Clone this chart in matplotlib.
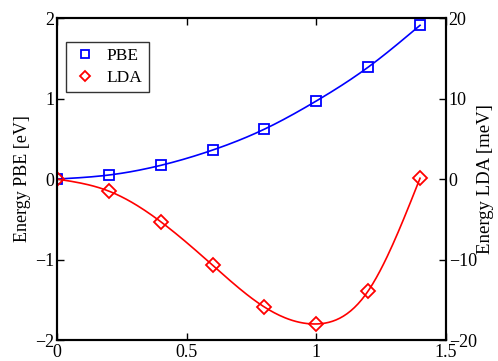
import matplotlib
matplotlib.use("Agg")
import matplotlib.pyplot as plt
import numpy as np

# data
x = [0, 0.2, 0.4, 0.6, 0.8, 1.0, 1.2, 1.4]
pbe = [0, 0.05, 0.17, 0.36, 0.62, 0.97, 1.39, 1.91]    # eV
lda = [0, -1.5, -5.3, -10.7, -15.9, -18.0, -13.9, 0.1]  # meV

plt.rcParams['font.family'] = 'serif'
plt.rcParams['font.serif'] = ['Liberation Serif']
plt.rcParams['mathtext.fontset'] = 'stix'


def spline(xs, ys, n=200):
    # natural cubic spline for the smooth line through the points
    xs = np.asarray(xs, float)
    ys = np.asarray(ys, float)
    h = np.diff(xs)
    m = len(xs)
    A = np.zeros((m, m))
    b = np.zeros(m)
    A[0, 0] = A[-1, -1] = 1
    for i in range(1, m - 1):
        A[i, i - 1] = h[i - 1]
        A[i, i] = 2 * (h[i - 1] + h[i])
        A[i, i + 1] = h[i]
        b[i] = 6 * ((ys[i + 1] - ys[i]) / h[i] - (ys[i] - ys[i - 1]) / h[i - 1])
    M = np.linalg.solve(A, b)
    xx = np.linspace(xs[0], xs[-1], n)
    k = np.clip(np.searchsorted(xs, xx) - 1, 0, m - 2)
    t0 = xs[k + 1] - xx
    t1 = xx - xs[k]
    hk = h[k]
    yy = (M[k] * t0**3 + M[k + 1] * t1**3) / (6 * hk) \
        + (ys[k] / hk - M[k] * hk / 6) * t0 + (ys[k + 1] / hk - M[k + 1] * hk / 6) * t1
    return xx, yy


fig = plt.figure(figsize=(4.98, 3.61), dpi=100)
ax1 = fig.add_axes([0.1145, 0.058, 0.781, 0.892])
ax2 = ax1.twinx()

xs, ys = spline(x, pbe)
ax1.plot(xs, ys, color='#0000ff', lw=1.2)
p1, = ax1.plot(x, pbe, 's', mfc='none', mec='#0000ff', ms=6.5, mew=1.3, label='PBE')

xs, ys = spline(x, lda)
ax2.plot(xs, ys, color='#ff0000', lw=1.2)
p2, = ax2.plot(x, lda, 'D', mfc='none', mec='#ff0000', ms=7, mew=1.3, label='LDA')

ax1.set_xlim(0, 1.5)
ax1.set_ylim(-2, 2)
ax2.set_ylim(-20, 20)
ax1.set_xticks([0, 0.5, 1, 1.5])
ax1.set_xticklabels(['0', '0.5', '1', '1.5'])
ax1.set_yticks([-2, -1, 0, 1, 2])
ax2.set_yticks([-20, -10, 0, 10, 20])

for ax in (ax1, ax2):
    for s in ax.spines.values():
        s.set_linewidth(1.5)
    ax.tick_params(direction='in', length=5, width=1, labelsize=13, pad=2)
ax1.tick_params(top=True)
ax1.tick_params(axis='x', pad=3)

ax1.set_ylabel('Energy PBE [eV]', fontsize=13, labelpad=3)
ax2.set_ylabel('Energy LDA [meV]', fontsize=13.5, labelpad=0)

leg = ax1.legend(handles=[p1, p2], loc='upper left', bbox_to_anchor=(0.023, 0.925),
                 borderaxespad=0, fontsize=12.5, fancybox=False, edgecolor='black',
                 handletextpad=0.5, handlelength=1.5, borderpad=0.35, labelspacing=0.3,
                 markerscale=0.8)
leg.get_frame().set_linewidth(1.0)

fig.savefig('out.png', dpi=100)
